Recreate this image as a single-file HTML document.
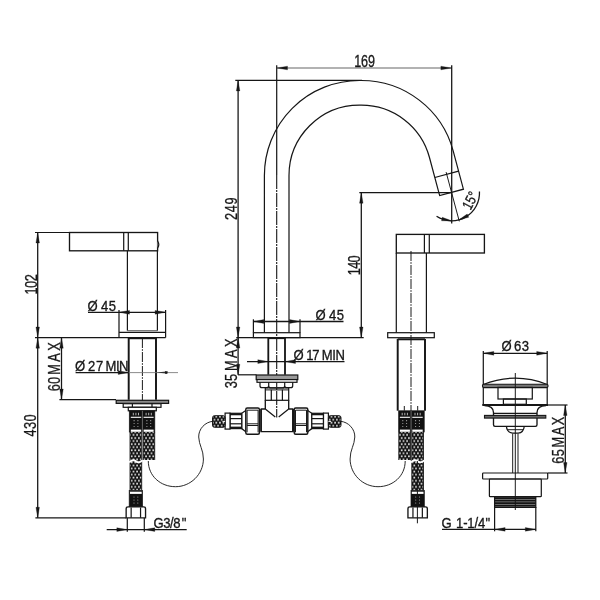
<!DOCTYPE html>
<html lang="en">
<head>
<meta charset="utf-8">
<title>Technical drawing</title>
<style>
html,body{margin:0;padding:0;background:#fff;}
body{width:600px;height:600px;overflow:hidden;}
svg{display:block;will-change:transform;font-family:"Liberation Sans",sans-serif;}
</style>
</head>
<body>
<svg width="600" height="600" viewBox="0 0 600 600" fill="none" stroke-linecap="butt">
<defs>
<pattern id="braid" x="3.0" y="0.4" width="3.6" height="6.1" patternUnits="userSpaceOnUse">
<rect x="0" y="0" width="3.6" height="6.1" fill="#101010"/>
<path d="M0.9 0.1 L1.85 1.5 L0.9 2.9 L-0.05 1.5 Z M2.7 3.15 L3.65 4.55 L2.7 5.95 L1.75 4.55 Z" fill="#fff"/>
</pattern>
</defs>
<rect x="0" y="0" width="600" height="600" fill="#fff"/>
<path d="M264.4 332.7 L264.4 175.5 A95.0 95.0 0 0 1 359.4 80.5 L361.4 80.5 A95.0 95.0 0 0 1 453.16 150.91 L463.42 189.20 L439.66 195.57 L429.40 157.28 A70.4 70.4 0 0 0 361.4 105.1 L359.4 105.1 A70.4 70.4 0 0 0 289 175.5 L289 332.7" stroke="#161616" stroke-width="1.22" fill="none" />
<path d="M434.82 177.50 L458.58 171.14" stroke="#161616" stroke-width="1.28" fill="none" />
<line x1="446.11" y1="172.10" x2="459.31" y2="221.36" stroke="#161616" stroke-width="0.98" />
<line x1="276.70" y1="65.30" x2="276.70" y2="175.00" stroke="#161616" stroke-width="1.22" />
<line x1="276.70" y1="175.00" x2="276.70" y2="417.50" stroke="#161616" stroke-width="1.10" stroke-dasharray="14 1 2 1"/>
<line x1="276.70" y1="68.00" x2="451.70" y2="68.00" stroke="#666" stroke-width="1.22" />
<polygon points="276.70,68.00 287.50,66.20 287.50,69.80" fill="#161616" stroke="#161616" stroke-width="0.3"/>
<polygon points="451.70,68.00 440.90,69.80 440.90,66.20" fill="#161616" stroke="#161616" stroke-width="0.3"/>
<line x1="451.70" y1="65.30" x2="451.70" y2="223.60" stroke="#161616" stroke-width="1.28" />
<text transform="translate(354.20,66.60) rotate(0) scale(0.75,1)" font-size="16.8" fill="#161616" stroke="#161616" stroke-width="0.33"><tspan x="0.00" textLength="27.73" lengthAdjust="spacing">169</tspan></text>
<line x1="235.30" y1="80.40" x2="362.00" y2="80.40" stroke="#161616" stroke-width="1.22" />
<line x1="238.10" y1="80.40" x2="238.10" y2="374.80" stroke="#161616" stroke-width="1.28" />
<polygon points="238.10,80.40 239.85,90.90 236.35,90.90" fill="#161616" stroke="#161616" stroke-width="0.3"/>
<polygon points="238.10,337.50 236.35,327.00 239.85,327.00" fill="#161616" stroke="#161616" stroke-width="0.3"/>
<text transform="translate(236.50,219.90) rotate(-90) scale(0.8,1)" font-size="16.0" fill="#161616" stroke="#161616" stroke-width="0.3"><tspan x="0.00" textLength="28.00" lengthAdjust="spacing">249</tspan></text>
<line x1="236.30" y1="337.60" x2="363.70" y2="337.60" stroke="#161616" stroke-width="1.22" />
<line x1="359.30" y1="192.70" x2="451.54" y2="192.70" stroke="#161616" stroke-width="1.22" />
<line x1="361.30" y1="192.70" x2="361.30" y2="337.50" stroke="#161616" stroke-width="1.28" />
<polygon points="361.30,192.70 363.05,203.20 359.55,203.20" fill="#161616" stroke="#161616" stroke-width="0.3"/>
<polygon points="361.30,337.50 359.55,327.00 363.05,327.00" fill="#161616" stroke="#161616" stroke-width="0.3"/>
<text transform="translate(359.80,275.20) rotate(-90) scale(0.8,1)" font-size="16.0" fill="#161616" stroke="#161616" stroke-width="0.3"><tspan x="0.00" textLength="24.75" lengthAdjust="spacing">140</tspan></text>
<path d="M436.56 216.32 A27.8 27.8 0 0 0 479.46 191.55" stroke="#161616" stroke-width="1.28" fill="none" />
<polygon points="451.70,220.80 441.54,220.80 442.18,217.26" fill="#161616" stroke="#161616" stroke-width="0.3"/>
<polygon points="458.90,219.85 467.20,214.00 468.72,217.26" fill="#161616" stroke="#161616" stroke-width="0.3"/>
<text transform="translate(470.50,210.70) rotate(-62) scale(0.8,1)" font-size="14.8" fill="#161616" stroke="#161616" stroke-width="0.3"><tspan x="0.00" textLength="22.00" lengthAdjust="spacing">15°</tspan></text>
<rect x="253.40" y="332.70" width="46.60" height="4.90" rx="0" stroke="#161616" stroke-width="1.22" fill="none" />
<line x1="253.40" y1="319.30" x2="253.40" y2="332.70" stroke="#161616" stroke-width="1.22" />
<line x1="300.00" y1="319.30" x2="300.00" y2="332.70" stroke="#161616" stroke-width="1.22" />
<line x1="253.40" y1="321.50" x2="343.50" y2="321.50" stroke="#161616" stroke-width="1.28" />
<polygon points="253.40,321.50 263.90,319.60 263.90,323.40" fill="#161616" stroke="#161616" stroke-width="0.3"/>
<polygon points="300.00,321.50 289.50,323.40 289.50,319.60" fill="#161616" stroke="#161616" stroke-width="0.3"/>
<text transform="translate(315.50,319.80) rotate(0) scale(0.89,1)" font-size="14.7" fill="#161616" stroke="#161616" stroke-width="0.33"><tspan x="0.00" textLength="10.67" lengthAdjust="spacing">Ø</tspan><tspan x="10.67" textLength="21.35" lengthAdjust="spacing"> 45</tspan></text>
<line x1="268.30" y1="337.60" x2="268.30" y2="374.70" stroke="#161616" stroke-width="1.83" />
<line x1="285.00" y1="337.60" x2="285.00" y2="374.70" stroke="#161616" stroke-width="1.83" />
<line x1="268.30" y1="338.20" x2="285.00" y2="338.20" stroke="#161616" stroke-width="1.83" />
<line x1="247.00" y1="361.60" x2="344.50" y2="361.60" stroke="#161616" stroke-width="1.28" />
<polygon points="268.30,361.60 257.80,363.50 257.80,359.70" fill="#161616" stroke="#161616" stroke-width="0.3"/>
<polygon points="285.00,361.60 295.50,359.70 295.50,363.50" fill="#161616" stroke="#161616" stroke-width="0.3"/>
<text transform="translate(293.50,359.60) rotate(0) scale(0.89,1)" font-size="14.7" fill="#161616" stroke="#161616" stroke-width="0.33"><tspan x="0.00" textLength="10.67" lengthAdjust="spacing">Ø</tspan><tspan x="11.80" textLength="17.42" lengthAdjust="spacing"> 17</tspan><tspan x="28.09" textLength="29.78" lengthAdjust="spacing"> MIN</tspan></text>
<polygon points="238.10,337.60 239.85,348.10 236.35,348.10" fill="#161616" stroke="#161616" stroke-width="0.3"/>
<polygon points="238.10,374.80 236.35,364.30 239.85,364.30" fill="#161616" stroke="#161616" stroke-width="0.3"/>
<line x1="238.00" y1="374.80" x2="256.50" y2="374.80" stroke="#161616" stroke-width="1.22" />
<text transform="translate(236.80,388.30) rotate(-90) scale(0.8,1)" font-size="16.0" fill="#161616" stroke="#161616" stroke-width="0.3"><tspan x="0.00" textLength="18.12" lengthAdjust="spacing">35</tspan><tspan x="14.12" textLength="48.12" lengthAdjust="spacing"> MAX</tspan></text>
<rect x="256.20" y="375.00" width="41.60" height="4.60" rx="0" stroke="#161616" stroke-width="1.22" fill="#9a9a9a" />
<rect x="257.00" y="379.60" width="40.00" height="2.70" rx="0" stroke="#161616" stroke-width="1.22" fill="#fff" />
<path d="M260 382.3 L260 385.7 Q260 387.7 262 387.7 L266.7 387.7 Q268.7 387.7 268.7 385.7 L268.7 382.3 M268.7 385.7 Q268.7 387.9 271 387.9 L282.4 387.9 Q284.7 387.9 284.7 385.7 L284.7 382.3 M284.7 385.7 Q284.7 387.7 286.7 387.7 L290.7 387.7 Q292.7 387.7 292.7 385.7 L292.7 382.3" stroke="#161616" stroke-width="1.22" fill="none" />
<rect x="265.30" y="387.90" width="23.40" height="12.40" rx="0" stroke="#161616" stroke-width="1.22" fill="none" />
<line x1="271.30" y1="389.70" x2="271.30" y2="400.30" stroke="#161616" stroke-width="1.22" />
<line x1="282.40" y1="389.70" x2="282.40" y2="400.30" stroke="#161616" stroke-width="1.22" />
<line x1="265.30" y1="389.90" x2="288.70" y2="389.90" stroke="#161616" stroke-width="0.98" />
<path d="M265.3 400.3 L265.3 409 L261.3 409 L261.3 431.7 L292.7 431.7 L292.7 409 L288.7 409 L288.7 400.3" stroke="#161616" stroke-width="1.34" fill="none" />
<path d="M265.6 409.3 L275.3 417 M288.4 409.3 L278.7 417" stroke="#161616" stroke-width="1.22" fill="none" />
<path d="M247.3 408.1 L257.9 408.1 Q259.4 408.1 259.4 409.6 L259.4 432.8 Q259.4 434.3 257.9 434.3 L247.3 434.3 Q245.8 434.3 245.8 432.8 L245.8 409.6 Q245.8 408.1 247.3 408.1 Z" stroke="#161616" stroke-width="1.46" fill="#fff" />
<path d="M247.10000000000002 410.1 L247.10000000000002 432.3 M258.09999999999997 410.1 L258.09999999999997 432.3 M247.10000000000002 410.2 L258.09999999999997 410.2 M247.10000000000002 423.8 L258.09999999999997 423.8 M247.10000000000002 425.5 L258.09999999999997 425.5" stroke="#161616" stroke-width="0.98" fill="none" />
<path d="M295.7 408.1 L306.3 408.1 Q307.8 408.1 307.8 409.6 L307.8 432.8 Q307.8 434.3 306.3 434.3 L295.7 434.3 Q294.2 434.3 294.2 432.8 L294.2 409.6 Q294.2 408.1 295.7 408.1 Z" stroke="#161616" stroke-width="1.46" fill="#fff" />
<path d="M295.5 410.1 L295.5 432.3 M306.5 410.1 L306.5 432.3 M295.5 410.2 L306.5 410.2 M295.5 423.8 L306.5 423.8 M295.5 425.5 L306.5 425.5" stroke="#161616" stroke-width="0.98" fill="none" />
<line x1="260.30" y1="409.00" x2="260.30" y2="431.70" stroke="#161616" stroke-width="0.98" />
<line x1="293.50" y1="409.00" x2="293.50" y2="431.70" stroke="#161616" stroke-width="0.98" />
<path d="M245.8 410.5 L241.7 413.3 L241.7 428.6 L245.8 431.8" stroke="#161616" stroke-width="1.22" fill="none" />
<rect x="230.00" y="413.30" width="11.70" height="15.30" rx="0" stroke="#161616" stroke-width="1.22" fill="#fff" />
<line x1="230.00" y1="414.30" x2="241.70" y2="414.30" stroke="#161616" stroke-width="1.95" />
<line x1="230.00" y1="418.60" x2="241.70" y2="418.60" stroke="#161616" stroke-width="1.22" />
<line x1="230.00" y1="423.80" x2="241.70" y2="423.80" stroke="#161616" stroke-width="1.22" />
<line x1="230.00" y1="427.60" x2="241.70" y2="427.60" stroke="#161616" stroke-width="1.95" />
<rect x="225.10" y="413.10" width="4.90" height="16.00" rx="0" stroke="#161616" stroke-width="1.22" fill="#fff" />
<rect x="212.50" y="415.70" width="12.60" height="11.60" rx="2" stroke="#161616" stroke-width="0.98" fill="url(#braid)" />
<line x1="225.10" y1="421.40" x2="222.50" y2="421.40" stroke="#fff" stroke-width="0.98" />
<path d="M307.7 410.5 L311.8 413.3 L311.8 428.6 L307.7 431.8" stroke="#161616" stroke-width="1.22" fill="none" />
<rect x="311.80" y="413.30" width="11.70" height="15.30" rx="0" stroke="#161616" stroke-width="1.22" fill="#fff" />
<line x1="311.80" y1="414.30" x2="323.50" y2="414.30" stroke="#161616" stroke-width="1.95" />
<line x1="311.80" y1="418.60" x2="323.50" y2="418.60" stroke="#161616" stroke-width="1.22" />
<line x1="311.80" y1="423.80" x2="323.50" y2="423.80" stroke="#161616" stroke-width="1.22" />
<line x1="311.80" y1="427.60" x2="323.50" y2="427.60" stroke="#161616" stroke-width="1.95" />
<rect x="323.50" y="413.10" width="4.90" height="16.00" rx="0" stroke="#161616" stroke-width="1.22" fill="#fff" />
<rect x="328.40" y="415.70" width="12.60" height="11.60" rx="2" stroke="#161616" stroke-width="0.98" fill="url(#braid)" />
<line x1="328.40" y1="421.40" x2="331.00" y2="421.40" stroke="#fff" stroke-width="0.98" />
<path d="M213.00 421.3 C205.00 422 198.50 429 198.70 437 C198.90 445 203.50 450 203.40 459 C203.30 474.5 190.50 486.7 175.50 486.7 C160.50 486.7 148.30 476 148.30 461" stroke="#161616" stroke-width="0.92" fill="none" />
<path d="M340.50 421.3 C348.50 422 355.00 429 354.80 437 C354.60 445 350.00 450 350.10 459 C350.20 474.5 363.00 486.7 378.00 486.7 C393.00 486.7 405.20 476 405.20 461" stroke="#161616" stroke-width="0.92" fill="none" />
<line x1="35.00" y1="232.50" x2="157.60" y2="232.50" stroke="#161616" stroke-width="1.22" />
<rect x="69.50" y="232.50" width="88.10" height="18.30" rx="0" stroke="#161616" stroke-width="1.34" fill="none" />
<line x1="123.70" y1="232.50" x2="123.70" y2="250.80" stroke="#161616" stroke-width="1.22" />
<line x1="128.30" y1="232.50" x2="128.30" y2="250.80" stroke="#161616" stroke-width="1.22" />
<path d="M157.6 241 Q160 244.5 157.6 248" stroke="#161616" stroke-width="1.22" fill="#fff" />
<line x1="127.40" y1="250.80" x2="127.40" y2="330.70" stroke="#161616" stroke-width="1.22" />
<line x1="157.40" y1="250.80" x2="157.40" y2="330.70" stroke="#161616" stroke-width="1.22" />
<line x1="127.40" y1="330.70" x2="157.40" y2="330.70" stroke="#555" stroke-width="0.98" />
<line x1="119.00" y1="310.00" x2="119.00" y2="337.60" stroke="#161616" stroke-width="1.22" />
<line x1="165.60" y1="310.00" x2="165.60" y2="337.60" stroke="#161616" stroke-width="1.22" />
<line x1="119.00" y1="332.40" x2="165.60" y2="332.40" stroke="#161616" stroke-width="1.22" />
<line x1="35.00" y1="337.60" x2="165.60" y2="337.60" stroke="#161616" stroke-width="1.22" />
<line x1="88.00" y1="312.30" x2="165.60" y2="312.30" stroke="#161616" stroke-width="1.28" />
<polygon points="119.00,312.30 129.50,310.40 129.50,314.20" fill="#161616" stroke="#161616" stroke-width="0.3"/>
<polygon points="165.60,312.30 155.10,314.20 155.10,310.40" fill="#161616" stroke="#161616" stroke-width="0.3"/>
<text transform="translate(87.50,310.60) rotate(0) scale(0.89,1)" font-size="14.7" fill="#161616" stroke="#161616" stroke-width="0.33"><tspan x="0.00" textLength="10.67" lengthAdjust="spacing">Ø</tspan><tspan x="10.67" textLength="21.35" lengthAdjust="spacing"> 45</tspan></text>
<line x1="128.70" y1="337.60" x2="128.70" y2="399.80" stroke="#161616" stroke-width="1.95" />
<line x1="156.00" y1="337.60" x2="156.00" y2="399.80" stroke="#161616" stroke-width="1.95" />
<line x1="128.70" y1="338.30" x2="156.00" y2="338.30" stroke="#161616" stroke-width="1.83" />
<line x1="142.40" y1="338.00" x2="142.40" y2="411.00" stroke="#161616" stroke-width="0.98" stroke-dasharray="10 1.2 1.6 1.2"/>
<line x1="75.60" y1="372.60" x2="128.70" y2="372.60" stroke="#161616" stroke-width="1.28" />
<line x1="128.70" y1="372.60" x2="178.00" y2="372.60" stroke="#777" stroke-width="0.85" />
<polygon points="128.70,372.60 118.20,374.40 118.20,370.80" fill="#161616" stroke="#161616" stroke-width="0.3"/>
<polygon points="156,372.6 166.5,371.6 166.5,373.6" fill="#333"/>
<rect x="165.30" y="371.50" width="2.00" height="2.20" rx="0" stroke="#161616" stroke-width="0.37" fill="#161616" />
<text transform="translate(75.00,371.00) rotate(0) scale(0.89,1)" font-size="14.7" fill="#161616" stroke="#161616" stroke-width="0.33"><tspan x="0.00" textLength="10.67" lengthAdjust="spacing">Ø</tspan><tspan x="9.55" textLength="22.13" lengthAdjust="spacing"> 27</tspan><tspan x="30.90" textLength="29.21" lengthAdjust="spacing"> MIN</tspan></text>
<line x1="61.50" y1="337.70" x2="61.50" y2="399.50" stroke="#161616" stroke-width="1.28" />
<polygon points="61.50,337.70 63.25,348.20 59.75,348.20" fill="#161616" stroke="#161616" stroke-width="0.3"/>
<polygon points="61.50,399.50 59.75,389.00 63.25,389.00" fill="#161616" stroke="#161616" stroke-width="0.3"/>
<line x1="59.40" y1="399.60" x2="116.00" y2="399.60" stroke="#161616" stroke-width="1.22" />
<text transform="translate(60.00,391.30) rotate(-90) scale(0.8,1)" font-size="16.0" fill="#161616" stroke="#161616" stroke-width="0.3"><tspan x="0.00" textLength="18.12" lengthAdjust="spacing">60</tspan><tspan x="13.12" textLength="48.12" lengthAdjust="spacing"> MAX</tspan></text>
<line x1="37.70" y1="232.50" x2="37.70" y2="517.80" stroke="#161616" stroke-width="1.28" />
<polygon points="37.70,232.50 39.45,243.00 35.95,243.00" fill="#161616" stroke="#161616" stroke-width="0.3"/>
<polygon points="37.70,337.50 35.95,327.00 39.45,327.00" fill="#161616" stroke="#161616" stroke-width="0.3"/>
<polygon points="37.70,337.70 39.45,348.20 35.95,348.20" fill="#161616" stroke="#161616" stroke-width="0.3"/>
<polygon points="37.70,517.80 35.95,507.30 39.45,507.30" fill="#161616" stroke="#161616" stroke-width="0.3"/>
<text transform="translate(36.50,294.60) rotate(-90) scale(0.8,1)" font-size="16.0" fill="#161616" stroke="#161616" stroke-width="0.3"><tspan x="0.00" textLength="25.62" lengthAdjust="spacing">102</tspan></text>
<text transform="translate(36.00,436.50) rotate(-90) scale(0.8,1)" font-size="16.0" fill="#161616" stroke="#161616" stroke-width="0.3"><tspan x="0.00" textLength="27.50" lengthAdjust="spacing">430</tspan></text>
<line x1="35.40" y1="517.80" x2="126.00" y2="517.80" stroke="#161616" stroke-width="1.22" />
<rect x="116.20" y="400.30" width="52.40" height="3.10" rx="0" stroke="#161616" stroke-width="1.22" fill="#8a8a8a" />
<rect x="123.20" y="403.70" width="37.80" height="3.60" rx="0" stroke="#161616" stroke-width="1.22" fill="#fff" />
<line x1="132.40" y1="403.70" x2="132.40" y2="407.30" stroke="#161616" stroke-width="1.22" />
<line x1="152.00" y1="403.70" x2="152.00" y2="407.30" stroke="#161616" stroke-width="1.22" />
<rect x="128.30" y="407.30" width="28.00" height="3.50" rx="0" stroke="#161616" stroke-width="1.22" fill="#fff" />
<rect x="129.30" y="410.80" width="25.50" height="21.20" rx="0" stroke="#161616" stroke-width="0.73" fill="#111" />
<line x1="142.40" y1="410.80" x2="142.40" y2="432.00" stroke="#888" stroke-width="0.73" />
<line x1="130.80" y1="417.30" x2="141.20" y2="417.30" stroke="#fff" stroke-width="1.10" />
<line x1="130.80" y1="430.70" x2="141.20" y2="430.70" stroke="#fff" stroke-width="2.20" />
<line x1="133.30" y1="412.80" x2="133.30" y2="415.30" stroke="#ccc" stroke-width="0.85" />
<line x1="135.90" y1="412.80" x2="135.90" y2="415.30" stroke="#ccc" stroke-width="0.85" />
<line x1="138.50" y1="412.80" x2="138.50" y2="415.30" stroke="#ccc" stroke-width="0.85" />
<circle cx="134.10" cy="420.7" r="0.6" fill="#aaa"/>
<circle cx="137.90" cy="420.7" r="0.6" fill="#aaa"/>
<circle cx="134.10" cy="423.5" r="0.6" fill="#aaa"/>
<circle cx="137.90" cy="423.5" r="0.6" fill="#aaa"/>
<circle cx="134.10" cy="426.5" r="0.6" fill="#aaa"/>
<circle cx="137.90" cy="426.5" r="0.6" fill="#aaa"/>
<line x1="143.60" y1="417.30" x2="153.60" y2="417.30" stroke="#fff" stroke-width="1.10" />
<line x1="143.60" y1="430.70" x2="153.60" y2="430.70" stroke="#fff" stroke-width="2.20" />
<line x1="146.10" y1="412.80" x2="146.10" y2="415.30" stroke="#ccc" stroke-width="0.85" />
<line x1="148.70" y1="412.80" x2="148.70" y2="415.30" stroke="#ccc" stroke-width="0.85" />
<line x1="151.30" y1="412.80" x2="151.30" y2="415.30" stroke="#ccc" stroke-width="0.85" />
<circle cx="146.90" cy="420.7" r="0.6" fill="#aaa"/>
<circle cx="150.70" cy="420.7" r="0.6" fill="#aaa"/>
<circle cx="146.90" cy="423.5" r="0.6" fill="#aaa"/>
<circle cx="150.70" cy="423.5" r="0.6" fill="#aaa"/>
<circle cx="146.90" cy="426.5" r="0.6" fill="#aaa"/>
<circle cx="150.70" cy="426.5" r="0.6" fill="#aaa"/>
<rect x="130.00" y="432.00" width="11.70" height="29.00" rx="0" stroke="none" stroke-width="0.00" fill="url(#braid)" />
<rect x="143.00" y="432.00" width="11.70" height="28.00" rx="0" stroke="none" stroke-width="0.00" fill="url(#braid)" />
<line x1="142.40" y1="432.00" x2="142.40" y2="461.00" stroke="#fff" stroke-width="1.22" />
<line x1="130.00" y1="432.00" x2="130.00" y2="461.00" stroke="#161616" stroke-width="0.85" />
<line x1="141.70" y1="432.00" x2="141.70" y2="461.00" stroke="#161616" stroke-width="0.85" />
<line x1="143.00" y1="432.00" x2="143.00" y2="460.00" stroke="#161616" stroke-width="0.85" />
<line x1="154.70" y1="432.00" x2="154.70" y2="460.00" stroke="#161616" stroke-width="0.85" />
<rect x="130.00" y="461.00" width="11.70" height="29.30" rx="0" stroke="none" stroke-width="0.00" fill="url(#braid)" />
<line x1="130.00" y1="461.00" x2="130.00" y2="490.30" stroke="#161616" stroke-width="0.85" />
<line x1="141.70" y1="461.00" x2="141.70" y2="490.30" stroke="#161616" stroke-width="0.85" />
<path d="M129.20 462.3 Q133.00 458.8 135.85 461.3 T142.50 460.3" stroke="#fff" stroke-width="1.83" fill="none" />
<rect x="129.20" y="490.50" width="13.30" height="16.20" rx="0" stroke="#161616" stroke-width="0.73" fill="#111" />
<line x1="130.00" y1="492.80" x2="141.70" y2="492.80" stroke="#fff" stroke-width="2.20" />
<circle cx="134.00" cy="497" r="0.6" fill="#aaa"/>
<circle cx="137.80" cy="497" r="0.6" fill="#aaa"/>
<circle cx="134.00" cy="500" r="0.6" fill="#aaa"/>
<circle cx="137.80" cy="500" r="0.6" fill="#aaa"/>
<circle cx="134.00" cy="503" r="0.6" fill="#aaa"/>
<circle cx="137.80" cy="503" r="0.6" fill="#aaa"/>
<path d="M126.15 517.8 L126.15 508.7 Q126.15 506.9 128.15 506.9 L143.55 506.9 Q145.55 506.9 145.55 508.7 L145.55 517.8 Z" stroke="#161616" stroke-width="1.34" fill="#fff" />
<line x1="131.15" y1="507.50" x2="131.15" y2="517.80" stroke="#161616" stroke-width="1.22" />
<line x1="140.55" y1="507.50" x2="140.55" y2="517.80" stroke="#161616" stroke-width="1.22" />
<line x1="127.30" y1="518.00" x2="127.30" y2="531.70" stroke="#161616" stroke-width="1.22" />
<line x1="144.30" y1="518.00" x2="144.30" y2="531.70" stroke="#161616" stroke-width="1.22" />
<line x1="106.70" y1="529.60" x2="186.70" y2="529.60" stroke="#161616" stroke-width="1.28" />
<polygon points="127.30,529.60 116.80,531.40 116.80,527.80" fill="#161616" stroke="#161616" stroke-width="0.3"/>
<polygon points="144.30,529.60 154.80,527.80 154.80,531.40" fill="#161616" stroke="#161616" stroke-width="0.3"/>
<text transform="translate(153.40,527.80) rotate(0) scale(0.89,1)" font-size="14.7" fill="#161616" stroke="#161616" stroke-width="0.33"><tspan x="0.00" textLength="30.34" lengthAdjust="spacing">G3/8</tspan><tspan x="31.80" textLength="5.62" lengthAdjust="spacing">&quot;</tspan></text>
<rect x="396.30" y="234.40" width="88.10" height="18.60" rx="0" stroke="#161616" stroke-width="1.34" fill="none" />
<line x1="424.40" y1="234.40" x2="424.40" y2="253.00" stroke="#161616" stroke-width="1.22" />
<line x1="429.30" y1="234.40" x2="429.30" y2="253.00" stroke="#161616" stroke-width="1.22" />
<line x1="396.30" y1="253.00" x2="396.30" y2="332.70" stroke="#161616" stroke-width="1.22" />
<line x1="426.40" y1="253.00" x2="426.40" y2="332.70" stroke="#161616" stroke-width="1.22" />
<line x1="411.00" y1="251.00" x2="411.00" y2="411.00" stroke="#161616" stroke-width="0.98" stroke-dasharray="10 1.2 1.6 1.2"/>
<rect x="387.70" y="332.70" width="46.60" height="5.00" rx="0" stroke="#161616" stroke-width="1.22" fill="none" />
<line x1="397.70" y1="339.00" x2="397.70" y2="410.70" stroke="#161616" stroke-width="1.95" />
<line x1="425.00" y1="339.00" x2="425.00" y2="410.70" stroke="#161616" stroke-width="1.95" />
<line x1="397.70" y1="339.30" x2="425.00" y2="339.30" stroke="#161616" stroke-width="1.95" />
<line x1="404.30" y1="406.00" x2="404.30" y2="410.70" stroke="#161616" stroke-width="0.98" />
<line x1="417.70" y1="406.00" x2="417.70" y2="410.70" stroke="#161616" stroke-width="0.98" />
<rect x="398.70" y="410.80" width="25.50" height="21.20" rx="0" stroke="#161616" stroke-width="0.73" fill="#111" />
<line x1="411.10" y1="410.80" x2="411.10" y2="432.00" stroke="#888" stroke-width="0.73" />
<line x1="422.70" y1="417.30" x2="412.30" y2="417.30" stroke="#fff" stroke-width="1.10" />
<line x1="422.70" y1="430.70" x2="412.30" y2="430.70" stroke="#fff" stroke-width="2.20" />
<line x1="420.20" y1="412.80" x2="420.20" y2="415.30" stroke="#ccc" stroke-width="0.85" />
<line x1="417.60" y1="412.80" x2="417.60" y2="415.30" stroke="#ccc" stroke-width="0.85" />
<line x1="415.00" y1="412.80" x2="415.00" y2="415.30" stroke="#ccc" stroke-width="0.85" />
<circle cx="419.40" cy="420.7" r="0.6" fill="#aaa"/>
<circle cx="415.60" cy="420.7" r="0.6" fill="#aaa"/>
<circle cx="419.40" cy="423.5" r="0.6" fill="#aaa"/>
<circle cx="415.60" cy="423.5" r="0.6" fill="#aaa"/>
<circle cx="419.40" cy="426.5" r="0.6" fill="#aaa"/>
<circle cx="415.60" cy="426.5" r="0.6" fill="#aaa"/>
<line x1="409.90" y1="417.30" x2="399.90" y2="417.30" stroke="#fff" stroke-width="1.10" />
<line x1="409.90" y1="430.70" x2="399.90" y2="430.70" stroke="#fff" stroke-width="2.20" />
<line x1="407.40" y1="412.80" x2="407.40" y2="415.30" stroke="#ccc" stroke-width="0.85" />
<line x1="404.80" y1="412.80" x2="404.80" y2="415.30" stroke="#ccc" stroke-width="0.85" />
<line x1="402.20" y1="412.80" x2="402.20" y2="415.30" stroke="#ccc" stroke-width="0.85" />
<circle cx="406.60" cy="420.7" r="0.6" fill="#aaa"/>
<circle cx="402.80" cy="420.7" r="0.6" fill="#aaa"/>
<circle cx="406.60" cy="423.5" r="0.6" fill="#aaa"/>
<circle cx="402.80" cy="423.5" r="0.6" fill="#aaa"/>
<circle cx="406.60" cy="426.5" r="0.6" fill="#aaa"/>
<circle cx="402.80" cy="426.5" r="0.6" fill="#aaa"/>
<rect x="411.80" y="432.00" width="11.70" height="29.00" rx="0" stroke="none" stroke-width="0.00" fill="url(#braid)" />
<rect x="398.80" y="432.00" width="11.70" height="28.00" rx="0" stroke="none" stroke-width="0.00" fill="url(#braid)" />
<line x1="411.10" y1="432.00" x2="411.10" y2="461.00" stroke="#999" stroke-width="1.22" />
<line x1="423.50" y1="432.00" x2="423.50" y2="461.00" stroke="#161616" stroke-width="0.85" />
<line x1="411.80" y1="432.00" x2="411.80" y2="461.00" stroke="#161616" stroke-width="0.85" />
<line x1="410.50" y1="432.00" x2="410.50" y2="460.00" stroke="#161616" stroke-width="0.85" />
<line x1="398.80" y1="432.00" x2="398.80" y2="460.00" stroke="#161616" stroke-width="0.85" />
<rect x="411.80" y="461.00" width="11.70" height="29.30" rx="0" stroke="none" stroke-width="0.00" fill="url(#braid)" />
<line x1="423.50" y1="461.00" x2="423.50" y2="490.30" stroke="#161616" stroke-width="0.85" />
<line x1="411.80" y1="461.00" x2="411.80" y2="490.30" stroke="#161616" stroke-width="0.85" />
<path d="M411.00 462.3 Q414.80 458.8 417.65 461.3 T424.30 460.3" stroke="#fff" stroke-width="1.83" fill="none" />
<rect x="411.00" y="490.50" width="13.30" height="16.20" rx="0" stroke="#161616" stroke-width="0.73" fill="#111" />
<line x1="423.50" y1="492.80" x2="411.80" y2="492.80" stroke="#fff" stroke-width="2.20" />
<circle cx="419.50" cy="497" r="0.6" fill="#aaa"/>
<circle cx="415.70" cy="497" r="0.6" fill="#aaa"/>
<circle cx="419.50" cy="500" r="0.6" fill="#aaa"/>
<circle cx="415.70" cy="500" r="0.6" fill="#aaa"/>
<circle cx="419.50" cy="503" r="0.6" fill="#aaa"/>
<circle cx="415.70" cy="503" r="0.6" fill="#aaa"/>
<path d="M407.95 517.8 L407.95 508.7 Q407.95 506.9 409.95 506.9 L425.35 506.9 Q427.35 506.9 427.35 508.7 L427.35 517.8 Z" stroke="#161616" stroke-width="1.34" fill="#fff" />
<line x1="412.95" y1="507.50" x2="412.95" y2="517.80" stroke="#161616" stroke-width="1.22" />
<line x1="422.35" y1="507.50" x2="422.35" y2="517.80" stroke="#161616" stroke-width="1.22" />
<line x1="417.40" y1="461.00" x2="417.40" y2="523.30" stroke="#161616" stroke-width="0.98" />
<line x1="483.30" y1="351.00" x2="483.30" y2="405.00" stroke="#161616" stroke-width="1.22" />
<line x1="547.20" y1="351.00" x2="547.20" y2="405.00" stroke="#161616" stroke-width="1.22" />
<line x1="483.30" y1="353.30" x2="547.20" y2="353.30" stroke="#161616" stroke-width="1.28" />
<polygon points="483.30,353.30 493.80,351.40 493.80,355.20" fill="#161616" stroke="#161616" stroke-width="0.3"/>
<polygon points="547.20,353.30 536.70,355.20 536.70,351.40" fill="#161616" stroke="#161616" stroke-width="0.3"/>
<text transform="translate(501.60,351.30) rotate(0) scale(0.89,1)" font-size="14.7" fill="#161616" stroke="#161616" stroke-width="0.33"><tspan x="0.00" textLength="10.34" lengthAdjust="spacing">Ø</tspan><tspan x="8.99" textLength="21.91" lengthAdjust="spacing"> 63</tspan></text>
<path d="M483.3 384.5 Q515.3 371.8 547.2 384.5" stroke="#161616" stroke-width="1.22" fill="none" />
<rect x="482.40" y="384.30" width="65.70" height="3.30" rx="1.6" stroke="#161616" stroke-width="1.10" fill="#777" />
<rect x="498.00" y="387.40" width="34.30" height="11.60" rx="0" stroke="#161616" stroke-width="1.22" fill="none" />
<rect x="503.40" y="399.00" width="22.90" height="5.30" rx="0" stroke="#161616" stroke-width="1.22" fill="none" />
<line x1="482.30" y1="405.00" x2="548.00" y2="405.00" stroke="#161616" stroke-width="2.07" />
<line x1="548.00" y1="405.00" x2="567.50" y2="405.00" stroke="#161616" stroke-width="1.22" />
<path d="M484.5 405.5 Q493.5 406 493.5 412.5 L493.5 424.8 Q493.5 426.3 495 426.3 L535.5 426.3 Q537 426.3 537 424.8 L537 412.5 Q537 406 546 405.5" stroke="#161616" stroke-width="1.34" fill="none" />
<line x1="493.50" y1="413.30" x2="537.00" y2="413.30" stroke="#161616" stroke-width="1.28" />
<rect x="484.50" y="415.40" width="61.30" height="2.70" rx="0" stroke="#161616" stroke-width="1.10" fill="#666" />
<path d="M506.3 426.3 Q507 432.5 512.4 433.2 L518.2 433.2 Q523.5 432.5 524.3 426.3" stroke="#161616" stroke-width="1.22" fill="none" />
<line x1="507.30" y1="429.70" x2="523.30" y2="429.70" stroke="#161616" stroke-width="0.98" />
<line x1="512.60" y1="433.20" x2="512.60" y2="473.00" stroke="#444" stroke-width="1.22" />
<line x1="518.00" y1="433.20" x2="518.00" y2="473.00" stroke="#444" stroke-width="1.22" />
<rect x="482.60" y="473.00" width="65.10" height="6.00" rx="0.8" stroke="#161616" stroke-width="1.22" fill="none" />
<line x1="547.70" y1="473.00" x2="567.50" y2="473.00" stroke="#161616" stroke-width="1.22" />
<rect x="489.40" y="479.00" width="51.90" height="17.70" rx="0.8" stroke="#161616" stroke-width="1.22" fill="none" />
<rect x="494.60" y="496.70" width="41.20" height="10.70" rx="0" stroke="#161616" stroke-width="1.22" fill="#888" />
<line x1="494.60" y1="498.20" x2="535.80" y2="498.20" stroke="#161616" stroke-width="1.83" />
<line x1="494.60" y1="500.70" x2="535.80" y2="500.70" stroke="#161616" stroke-width="1.83" />
<line x1="494.60" y1="503.20" x2="535.80" y2="503.20" stroke="#161616" stroke-width="1.83" />
<line x1="494.60" y1="505.70" x2="535.80" y2="505.70" stroke="#161616" stroke-width="1.83" />
<line x1="515.30" y1="373.00" x2="515.30" y2="510.00" stroke="#161616" stroke-width="0.98" />
<line x1="494.60" y1="507.00" x2="494.60" y2="531.30" stroke="#161616" stroke-width="1.22" />
<line x1="535.80" y1="507.00" x2="535.80" y2="531.30" stroke="#161616" stroke-width="1.22" />
<line x1="442.00" y1="529.40" x2="535.80" y2="529.40" stroke="#161616" stroke-width="1.28" />
<polygon points="494.60,529.40 505.10,527.60 505.10,531.20" fill="#161616" stroke="#161616" stroke-width="0.3"/>
<polygon points="535.80,529.40 525.30,531.20 525.30,527.60" fill="#161616" stroke="#161616" stroke-width="0.3"/>
<text transform="translate(441.40,527.80) rotate(0) scale(0.89,1)" font-size="14.7" fill="#161616" stroke="#161616" stroke-width="0.33"><tspan x="0.00" textLength="9.55" lengthAdjust="spacing">G</tspan><tspan x="12.58" textLength="36.63" lengthAdjust="spacing"> 1-1/4</tspan><tspan x="49.44" textLength="5.62" lengthAdjust="spacing">&quot;</tspan></text>
<line x1="565.30" y1="405.00" x2="565.30" y2="473.00" stroke="#161616" stroke-width="1.28" />
<polygon points="565.30,405.00 567.05,415.50 563.55,415.50" fill="#161616" stroke="#161616" stroke-width="0.3"/>
<polygon points="565.30,473.00 563.55,462.50 567.05,462.50" fill="#161616" stroke="#161616" stroke-width="0.3"/>
<text transform="translate(563.50,463.70) rotate(-90) scale(0.8,1)" font-size="16.0" fill="#161616" stroke="#161616" stroke-width="0.3"><tspan x="0.00" textLength="18.12" lengthAdjust="spacing">65</tspan><tspan x="13.75" textLength="45.00" lengthAdjust="spacing"> MAX</tspan></text>
</svg>
</body>
</html>
